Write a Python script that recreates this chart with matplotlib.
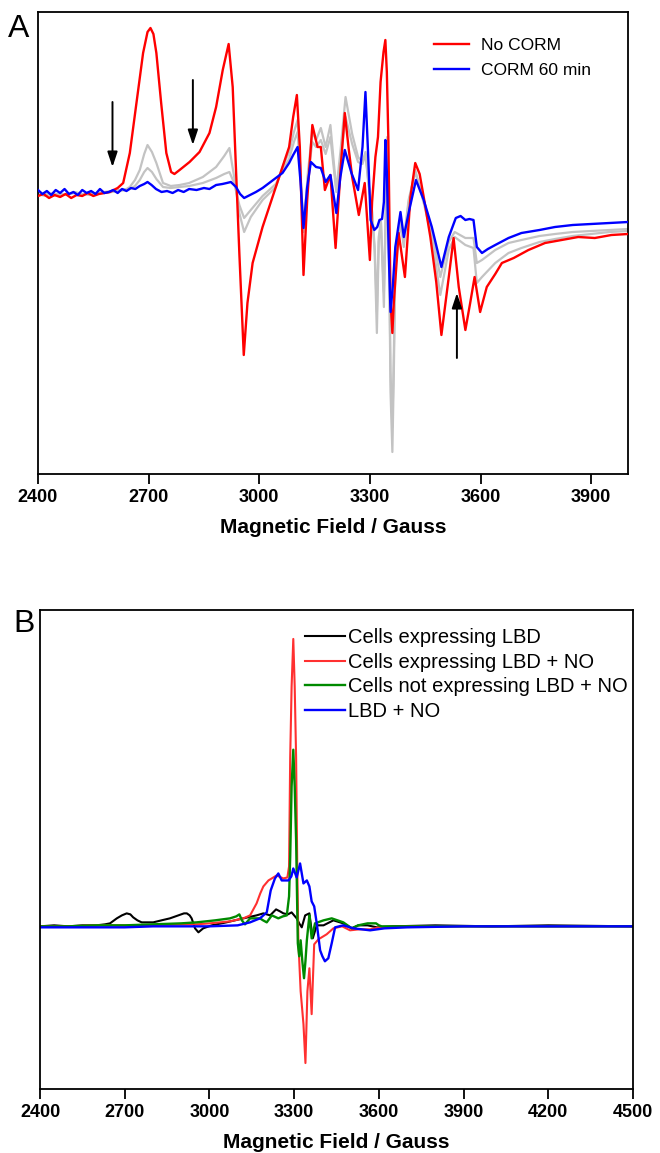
import matplotlib
matplotlib.use('Agg')
import matplotlib.pyplot as plt

# ---------------- Panel A data (field in Gauss, intensity in a.u.) ----------------
ticksA = [2400, 2700, 3000, 3300, 3600, 3900]

fieldA_red = [2400, 2415, 2430, 2445, 2460, 2475, 2490, 2505, 2520, 2535,
              2550, 2565, 2580, 2595, 2605, 2616, 2631, 2649, 2667, 2685,
              2697, 2705, 2713, 2721, 2734, 2748, 2761, 2770, 2784, 2811,
              2838, 2865, 2883, 2901, 2917, 2928, 2937, 2946, 2958, 2968,
              2982, 3009, 3045, 3063, 3081, 3092, 3102, 3110, 3120, 3130,
              3144, 3158, 3167, 3178, 3193, 3207, 3221, 3232, 3242, 3252,
              3270, 3286, 3300, 3306, 3315, 3322, 3329, 3337, 3342, 3346,
              3350, 3356, 3361, 3365, 3378, 3395, 3410, 3423, 3435, 3446,
              3464, 3480, 3494, 3514, 3527, 3541, 3559, 3572, 3584, 3599,
              3617, 3640, 3658, 3690, 3730, 3775, 3820, 3865, 3910, 3955,
              4000]
no_corm = [-4, -2, -6, -3, -5, -2, -6, -3, -4, -1,
           -4, -2, -1, 0, 2, 4, 9, 39, 89, 139,
           160, 164, 158, 139, 89, 39, 20, 18, 22, 30,
           40, 59, 85, 122, 148, 105, 22, -61, -163, -111,
           -71, -35, 5, 25, 45, 75, 97, 45, -83, -8,
           67, 45, 45, 2, 17, -56, 25, 79, 45, 15,
           -23, 9, -68, -10, 35, 55, 110, 140, 152, 120,
           55, -108, -141, -110, -41, -85, -5, 29, 18, -5,
           -45, -90, -143, -85, -46, -95, -138, -111, -85, -120,
           -95, -82, -71, -66, -58, -51, -48, -45, -46, -43,
           -42]

fieldA_blue = [2400, 2412, 2424, 2436, 2448, 2460, 2472, 2484, 2496, 2508,
               2520, 2532, 2544, 2556, 2568, 2580, 2592, 2604, 2616, 2628,
               2640, 2652, 2664, 2676, 2688,
               2697, 2708, 2720, 2735, 2750, 2765, 2780, 2795, 2810, 2830,
               2850, 2865, 2883, 2900, 2912, 2923, 2937, 2948, 2959, 2975,
               2991, 3009, 3027, 3045, 3063, 3081, 3092, 3104, 3112, 3120,
               3130, 3140, 3154, 3167, 3180, 3193, 3209, 3220, 3232, 3250,
               3268, 3280, 3288, 3295, 3302, 3312, 3320, 3326, 3333, 3338,
               3342, 3346, 3351, 3356, 3362, 3369, 3383, 3392, 3405, 3425,
               3446, 3468, 3494, 3514, 3533, 3546, 3559, 3570, 3581, 3590,
               3604, 3620, 3640, 3676, 3711, 3760, 3802, 3850, 3900, 3950,
               4000]
corm_60 = [2, -2, 1, -3, 2, -1, 3, -2, 0, -3,
           2, -1, 1, -2, 3, -1, 0, 2, -1, 3,
           1, 4, 3, 6, 8,
           10, 7, 3, 0, 1, -1, 2, 0, 3, 2,
           4, 3, 7, 8, 9, 10, 5, -2, -6, -3,
           0, 4, 9, 14, 19, 29, 37, 45, 10, -36,
           5, 30, 25, 24, 10, 17, -21, 15, 42, 19,
           2, 45, 100, 40, -28, -38, -35, -28, -27, -10,
           52, 20, -60, -120, -95, -55, -20, -45, -21, 12,
           -8, -35, -75, -45, -26, -24, -28, -27, -28, -55,
           -61, -57, -53, -46, -41, -38, -35, -33, -32, -31,
           -30]

fieldA_gray = [2400, 2420, 2440, 2460, 2480, 2500, 2520, 2540, 2560, 2580,
               2600, 2620, 2640,
               2649, 2663, 2676, 2688, 2697, 2709, 2721, 2739, 2760, 2784,
               2810, 2847, 2883, 2905, 2919, 2932, 2946, 2959, 2977, 3009,
               3045, 3063, 3081, 3094, 3104, 3112, 3120, 3132, 3144, 3154,
               3167, 3180, 3193, 3209, 3220, 3234, 3252, 3268, 3280, 3288,
               3296, 3305, 3313, 3319, 3324, 3330, 3338, 3343, 3347, 3352,
               3356, 3361, 3365, 3369, 3383, 3392, 3405, 3423, 3446, 3468,
               3491, 3514, 3530, 3559, 3581, 3590, 3604, 3640, 3676, 3711,
               3760, 3802, 3850, 3900, 3950, 4000]
corm_mid1 = [-3, -1, -4, -2, -3, 0, -2, -3, -1, 0,
             1, 2, 3,
             5, 12, 22, 38, 47, 40, 29, 9, 6, 7,
             9, 15, 25, 36, 44, 15, -21, -40, -25, -8,
             5, 25, 40, 60, 72, 20, -40, 20, 60, 52,
             64, 45, 67, 2, 40, 95, 58, 35, 30, 40,
             10, -15, -60, -141, -50, -30, -115, -20, 55, -60,
             -200, -260, -180, -75, -31, -55, -11, 22, -11, -45,
             -103, -58, -45, -53, -56, -91, -85, -71, -61, -56,
             -50, -47, -44, -42, -40, -39]
corm_mid2 = [-2, -4, -1, -3, -2, -1, -3, 0, -2, -1,
             0, 1, 2,
             3, 6, 12, 20, 24, 20, 13, 5, 4, 5,
             6, 9, 14, 18, 20, 9, -13, -26, -18, -4,
             8, 22, 33, 50, 60, 15, -35, 15, 50, 45,
             52, 38, 55, 0, 30, 75, 48, 30, 28, 38,
             8, -15, -55, -120, -45, -30, -100, -20, 45, -55,
             -180, -235, -160, -68, -26, -48, -8, 20, -9, -38,
             -85, -50, -40, -46, -46, -71, -68, -58, -51, -48,
             -44, -42, -40, -39, -38, -37]

arrow_field = [2602, 2820, 3536]
arrow_tail = [90, 112, -166]
arrow_tip = [25, 47, -101]

# ---------------- Panel B data ----------------
ticksB = [2400, 2700, 3000, 3300, 3600, 3900, 4200, 4500]

fieldB_black = [2400, 2450, 2500, 2550, 2600, 2630, 2648, 2672, 2690, 2707,
                2720, 2730, 2745, 2760, 2801, 2830, 2860, 2890, 2910, 2920,
                2930, 2937, 2949, 2961, 2978, 3008, 3060, 3120, 3167, 3191,
                3215, 3236, 3250, 3262, 3278, 3291, 3309, 3318, 3327, 3339,
                3354, 3360, 3366, 3380, 3404, 3439, 3474, 3504, 3527, 3560,
                3593, 3650, 3800, 4000, 4200, 4500]
cells_lbd = [0, 1, 0, 1, 1, 2, 3, 8, 11, 13,
             12, 9, 6, 4, 4, 6, 8, 11, 13, 13,
             11, 8, -2, -6, -2, 1, 4, 8, 11, 13,
             11, 17, 15, 13, 12, 14, 8, 3, -1, 11,
             13, 0, -12, 1, 1, 6, 3, -2, 1, 1,
             -1, 0, 1, 0, 1, 0]

fieldB_red = [2400, 2500, 2600, 2700, 2800, 2900, 2955, 3000, 3073, 3120,
              3144, 3167, 3180, 3191, 3209, 3238, 3262, 3276, 3282, 3286,
              3291, 3297, 3302, 3307, 3311, 3315, 3323, 3333, 3340, 3347,
              3354, 3362, 3371, 3386, 3415, 3439, 3470, 3498, 3530, 3569,
              3600, 3700, 3900, 4100, 4300, 4500]
cells_lbd_no = [0, 0, 1, 1, 1, 2, 2, 3, 5, 8,
                11, 23, 33, 40, 46, 51, 48, 49, 60, 169,
                240, 288, 240, 169, 60, -15, -65, -98, -137, -65,
                -42, -88, -18, -13, -8, -2, 0, -4, -3, -3,
                -1, 0, 0, 0, 0, 0]

fieldB_green = [2400, 2500, 2600, 2700, 2800, 2900, 2955, 3020, 3073, 3095,
                3106, 3115, 3126, 3144, 3179, 3190, 3203, 3221, 3244, 3260,
                3274, 3282, 3286, 3291, 3297, 3302, 3307, 3313, 3318, 3323,
                3329, 3335, 3340, 3345, 3350, 3354, 3362, 3374, 3404, 3433,
                3474, 3504, 3527, 3560, 3590, 3600, 3610, 3700, 3900, 4100,
                4300, 4500]
cells_not_lbd_no = [0, 0, 1, 1, 2, 3, 4, 6, 8, 10,
                    12, 6, 2, 8, 8, 6, 4, 11, 8, 10,
                    11, 30, 69, 140, 177, 140, 86, -17, -30, -14,
                    -35, -52, -35, -14, 0, 11, -12, 3, 6, 8,
                    4, -2, 1, 3, 3, 1, 0, 0, 0, 0,
                    0, 0]

fieldB_blue = [2400, 2500, 2600, 2700, 2800, 2900, 3000, 3100, 3144, 3179,
               3203, 3210, 3217, 3232, 3244, 3256, 3280, 3290, 3297, 3309,
               3321, 3333, 3345, 3354, 3362, 3371, 3380, 3392, 3400, 3409,
               3421, 3433, 3445, 3474, 3510, 3569, 3620, 3700, 3900, 4100,
               4300, 4500]
lbd_no = [-1, -1, -1, -1, 0, 0, 0, 1, 4, 8,
          14, 25, 36, 48, 53, 46, 46, 50, 58, 49,
          63, 43, 46, 40, 25, 20, 3, -24, -30, -35,
          -32, -17, -1, 1, -2, -4, -2, -1, 0, 0,
          0, 0]

# ---------------- Figure ----------------
plt.rcParams['font.family'] = ['Liberation Sans', 'DejaVu Sans']

W, H = 660, 1153
fig = plt.figure(figsize=(W / 100, H / 100), dpi=100)
axA = fig.add_axes([38 / W, 1 - 474 / H, 590 / W, 462 / H])
axB = fig.add_axes([40 / W, 1 - 1089 / H, 593 / W, 479 / H])

gray = '#c3c3c3'
axA.plot(fieldA_gray, corm_mid1, color=gray, lw=1.6, zorder=2)
axA.plot(fieldA_gray, corm_mid2, color=gray, lw=1.6, zorder=2)
axA.plot(fieldA_red, no_corm, color='#ff0000', lw=1.7, zorder=3, label='No CORM')
axA.plot(fieldA_blue, corm_60, color='#0000ff', lw=1.7, zorder=4, label='CORM 60 min')

for xf, yt, yh in zip(arrow_field, arrow_tail, arrow_tip):
    axA.annotate('', xy=(xf, yh), xytext=(xf, yt),
                 arrowprops=dict(arrowstyle='-|>,head_width=0.3,head_length=0.9',
                                 color='black', lw=1.4, shrinkA=0, shrinkB=0))

axA.set_xlim(2400, 4000)
axA.set_ylim(-282, 180)

axB.plot(fieldB_black, cells_lbd, color='black', lw=1.5, label='Cells expressing LBD')
axB.plot(fieldB_red, cells_lbd_no, color='#ff3030', lw=1.5, label='Cells expressing LBD + NO')
axB.plot(fieldB_green, cells_not_lbd_no, color='#008a00', lw=1.7, label='Cells not expressing LBD + NO')
axB.plot(fieldB_blue, lbd_no, color='#0000ff', lw=1.7, label='LBD + NO')
axB.set_xlim(2400, 4500)
axB.set_ylim(-163, 317)

for ax, ticks in ((axA, ticksA), (axB, ticksB)):
    ax.set_xticks(ticks)
    ax.set_xticklabels([str(t) for t in ticks], fontweight='bold')
    ax.set_yticks([])
    ax.tick_params(axis='x', direction='out', length=7, width=1.3,
                   labelsize=13, pad=3.8)
    for s in ax.spines.values():
        s.set_linewidth(1.3)
    ax.set_xlabel('Magnetic Field / Gauss', fontsize=15, fontweight='bold',
                  labelpad=8.5)

axA.legend(loc='upper left', bbox_to_anchor=(0.672, 0.944), frameon=False,
           fontsize=12.5, handlelength=2.0, handletextpad=0.7,
           labelspacing=0.58, borderpad=0, borderaxespad=0)
axB.legend(loc='upper left', bbox_to_anchor=(0.447, 0.963), frameon=False,
           fontsize=14.5, handlelength=2.0, handletextpad=0.15,
           labelspacing=0.29, borderpad=0, borderaxespad=0)

fig.text(8 / W, 1 - 14 / H, 'A', fontsize=23, va='top', ha='left')
fig.text(13 / W, 1 - 609 / H, 'B', fontsize=23, va='top', ha='left')

fig.savefig('out.png', dpi=100)
